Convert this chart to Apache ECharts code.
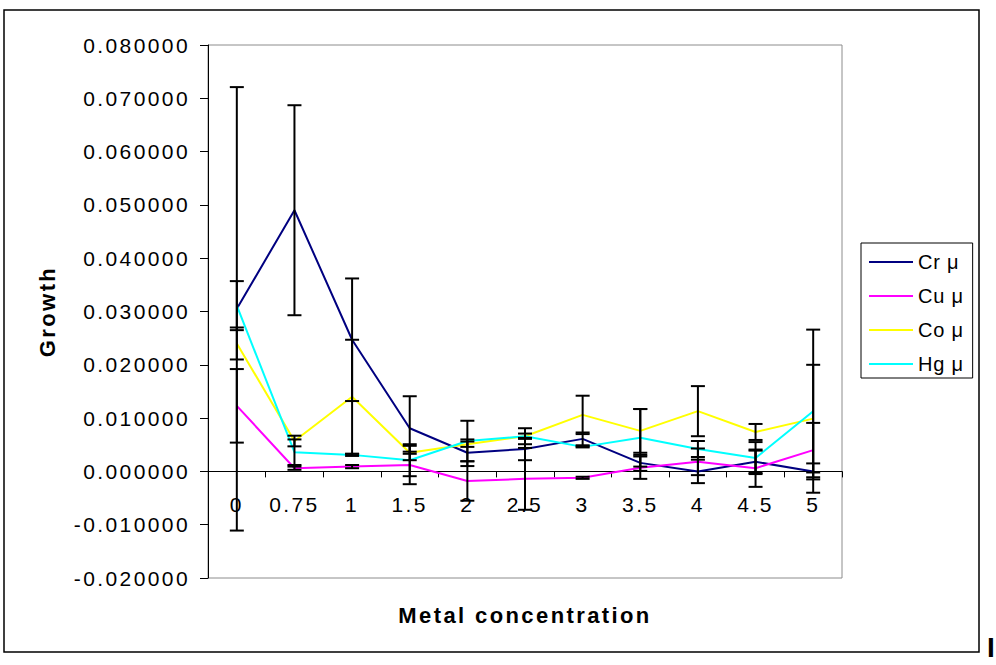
<!DOCTYPE html>
<html>
<head>
<meta charset="utf-8">
<script src="https://cdn.jsdelivr.net/npm/echarts@6/dist/echarts.min.js"></script>
<style>
  html, body { margin: 0; padding: 0; background: #fff; }
  #chart { width: 996px; height: 665px; }
  /* spreads glyphs a little, like the office-style labels */
  #chart text { letter-spacing: 2.4px; }
  #chart text[style*="20px"] { letter-spacing: 0.8px; }
</style>
</head>
<body>
<div id="chart"></div>
<script>
// Metal concentrations (x categories)
const categories = ['0', '0.75', '1', '1.5', '2', '2.5', '3', '3.5', '4', '4.5', '5'];

// Specific growth rate per metal, with standard deviations
const crMu  = [0.0305, 0.0490, 0.0247, 0.0081, 0.0035, 0.0042, 0.0061, 0.0016, 0.0000, 0.0018, 0.0000];
const crErr = [0.0416, 0.0197, 0.0115, 0.0060, 0.0025, 0.0021, 0.0012, 0.0015, 0.0022, 0.0021, 0.0015];

const cuMu  = [0.0123, 0.0006, 0.0009, 0.0012, -0.0018, -0.0014, -0.0012, 0.0007, 0.0018, 0.0006, 0.0040];
const cuErr = [0.0069, 0.0003, 0.0003, 0.0036, 0.0037, 0.0058, 0.0002, 0.0021, 0.0025, 0.0035, 0.0051];

const coMu  = [0.0240, 0.0057, 0.0140, 0.0035, 0.0051, 0.0066, 0.0106, 0.0076, 0.0113, 0.0074, 0.0099];
const coErr = [0.0030, 0.0010, 0.0107, 0.0002, 0.0005, 0.0015, 0.0036, 0.0041, 0.0047, 0.0015, 0.0101];

const hgMu  = [0.0311, 0.0036, 0.0031, 0.0021, 0.0057, 0.0066, 0.0046, 0.0063, 0.0042, 0.0025, 0.0113];
const hgErr = [0.0046, 0.0024, 0.0002, 0.0030, 0.0038, 0.0005, 0.0001, 0.0054, 0.0015, 0.0030, 0.0153];

// Y axis range and step
const yMin = -0.02;
const yMax = 0.08;
const yStep = 0.01;

const seriesNames = ['Cr μ', 'Cu μ', 'Co μ', 'Hg μ'];
const seriesColors = ['#000080', '#ff00ff', '#ffff00', '#00ffff'];
const seriesValues = [crMu, cuMu, coMu, hgMu];
const seriesErrors = [crErr, cuErr, coErr, hgErr];

const FONT = '"Liberation Sans", Arial, sans-serif';

function errorRows(values, errors) {
  return values.map((v, i) => [i, v - errors[i], v + errors[i]]);
}

function renderErrorBar(params, api) {
  const low = api.coord([api.value(0), api.value(1)]);
  const high = api.coord([api.value(0), api.value(2)]);
  const cx = low[0];
  const half = 7;
  const st = { stroke: '#000', lineWidth: 2 };
  return {
    type: 'group',
    children: [
      { type: 'line', shape: { x1: cx, y1: high[1], x2: cx, y2: low[1] }, style: st },
      { type: 'line', shape: { x1: cx - half, y1: high[1], x2: cx + half, y2: high[1] }, style: st },
      { type: 'line', shape: { x1: cx - half, y1: low[1], x2: cx + half, y2: low[1] }, style: st }
    ]
  };
}

const lineSeries = seriesNames.map((name, k) => ({
  name: name,
  type: 'line',
  data: seriesValues[k],
  symbol: 'none',
  z: 2,
  lineStyle: { color: seriesColors[k], width: 2 },
  itemStyle: { color: seriesColors[k] }
}));

const barSeries = seriesNames.map((name, k) => ({
  name: name + ' SD',
  type: 'custom',
  renderItem: renderErrorBar,
  data: errorRows(seriesValues[k], seriesErrors[k]),
  encode: { x: 0, y: [1, 2] },
  z: 3,
  silent: true
}));

const chart = echarts.init(document.getElementById('chart'), null, { renderer: 'svg' });

chart.setOption({
  animation: false,
  backgroundColor: '#fff',
  grid: {
    left: 208, right: 154, top: 45, bottom: 87,
    show: true, borderColor: '#8c8c8c', borderWidth: 1,
    outerBoundsMode: 'none'
  },
  legend: {
    data: seriesNames,
    orient: 'vertical',
    left: 861, top: 243,
    padding: [9, 12, 4, 8],
    itemGap: 14,
    itemWidth: 44,
    itemHeight: 2,
    icon: 'rect',
    backgroundColor: '#fff',
    borderColor: '#000',
    borderWidth: 1,
    borderRadius: 0,
    textStyle: { fontFamily: FONT, fontSize: 20, color: '#000', lineHeight: 20 }
  },
  xAxis: {
    type: 'category',
    data: categories,
    boundaryGap: true,
    name: 'Metal concentration',
    nameLocation: 'middle',
    nameGap: 133,
    nameTextStyle: { fontFamily: FONT, fontSize: 22, fontWeight: 'bold', color: '#000' },
    axisLine: { onZero: false, lineStyle: { color: '#000', width: 1 } },
    axisTick: { show: true, length: 6, lineStyle: { color: '#000' } },
    axisLabel: { fontFamily: FONT, fontSize: 21, color: '#000', margin: 23 },
    splitLine: { show: false }
  },
  yAxis: {
    type: 'value',
    min: yMin, max: yMax, interval: yStep,
    name: 'Growth',
    nameLocation: 'middle',
    nameRotate: 90,
    nameGap: 150,
    nameTextStyle: { fontFamily: FONT, fontSize: 22, fontWeight: 'bold', color: '#000' },
    axisLine: { show: true, lineStyle: { color: '#000', width: 1 } },
    axisTick: { show: true, length: 8, lineStyle: { color: '#000' } },
    axisLabel: {
      fontFamily: FONT, fontSize: 21, color: '#000', margin: 18,
      formatter: v => (Math.abs(v) < 1e-9 ? 0 : v).toFixed(6)
    },
    splitLine: { show: false }
  },
  graphic: [
    {
      type: 'rect',
      shape: { x: 4, y: 10, width: 975, height: 642 },
      style: { fill: null, stroke: '#000', lineWidth: 1.5 },
      silent: true
    },
    {
      type: 'text',
      x: 987, y: 633,
      style: { text: 'I', font: 'bold 28px ' + FONT, fill: '#000', textAlign: 'left', textVerticalAlign: 'top' },
      silent: true
    }
  ],
  series: lineSeries.concat(barSeries)
});

// Lift the whole category axis (line, ticks, labels, title) onto the y = 0 line
const zeroY = chart.convertToPixel({ yAxisIndex: 0 }, 0);
const bottomY = chart.convertToPixel({ yAxisIndex: 0 }, yMin);
chart.setOption({ xAxis: { offset: zeroY - bottomY } });
</script>
</body>
</html>
